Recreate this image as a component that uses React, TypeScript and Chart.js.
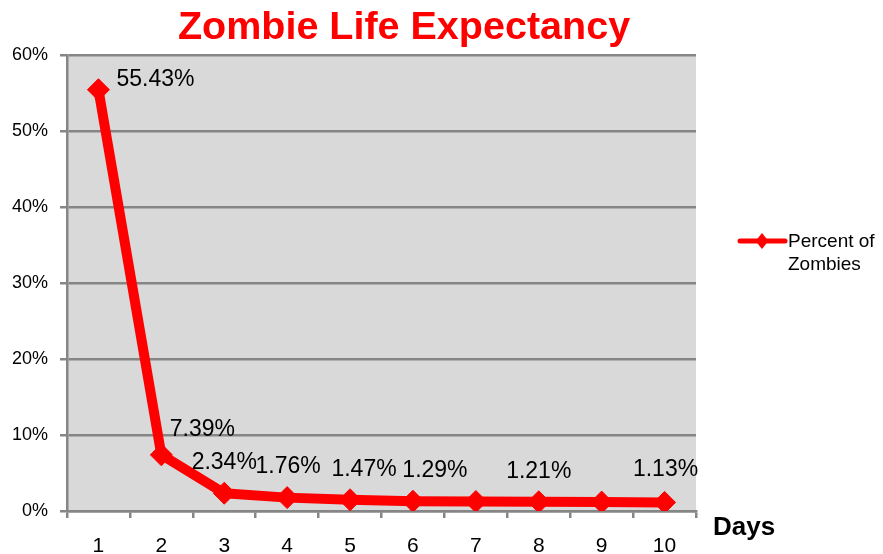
import React, { useEffect, useRef } from 'react';
import { Chart, registerables } from 'chart.js';

Chart.register(...registerables);

const chartTitle = 'Zombie Life Expectancy';
const xAxisTitle = 'Days';
const seriesName = 'Percent of Zombies';
const days = ['1', '2', '3', '4', '5', '6', '7', '8', '9', '10'];
const percentOfZombies = [55.43, 7.39, 2.34, 1.76, 1.47, 1.29, 1.25, 1.21, 1.17, 1.13];
const labelShown = [true, true, true, true, true, true, false, true, false, true];
const yTickValues = [0, 10, 20, 30, 40, 50, 60];

const FONT = '"Liberation Sans", Arial, Helvetica, sans-serif';
const RED = '#FF0000';
const GRID = '#868686';

// label placement (styling): dx from point centre, dy to baseline
const labelDx = [57, 41, 0, 1, 14, 22, 0, 0, 0, 1];
const labelDy = [-4, -19, -24, -25, -24, -24, -24, -24, -24, -26];

const decorPlugin = {
  id: 'decor',
  beforeDraw(chart: any) {
    const { ctx, chartArea } = chart;
    ctx.save();
    ctx.fillStyle = '#FFFFFF';
    ctx.fillRect(0, 0, chart.width, chart.height);
    ctx.fillStyle = '#D9D9D9';
    ctx.fillRect(chartArea.left, chartArea.top, chartArea.right - chartArea.left, chartArea.bottom - chartArea.top);
    ctx.restore();
  },
  afterDraw(chart: any) {
    const { ctx, chartArea } = chart;
    ctx.save();
    // title
    ctx.fillStyle = RED;
    ctx.font = `bold 39.5px ${FONT}`;
    ctx.textAlign = 'center';
    ctx.textBaseline = 'alphabetic';
    ctx.fillText(chartTitle, 404, 39);

    // x axis title
    ctx.fillStyle = '#000';
    ctx.font = `bold 26px ${FONT}`;
    ctx.textAlign = 'left';
    ctx.fillText(xAxisTitle, chartArea.right + 17, 535);

    // legend
    const lx = chartArea.right + 44;
    const ly = 241;
    ctx.strokeStyle = RED;
    ctx.lineWidth = 5;
    ctx.lineCap = 'round';
    ctx.beginPath();
    ctx.moveTo(lx, ly);
    ctx.lineTo(lx + 45, ly);
    ctx.stroke();
    ctx.fillStyle = RED;
    ctx.beginPath();
    const cx = lx + 22, r = 8;
    ctx.moveTo(cx, ly - r);
    ctx.lineTo(cx + r * 0.8, ly);
    ctx.lineTo(cx, ly + r);
    ctx.lineTo(cx - r * 0.8, ly);
    ctx.closePath();
    ctx.fill();
    ctx.fillStyle = '#000';
    ctx.font = `19px ${FONT}`;
    ctx.textAlign = 'left';
    const words = seriesName.split(' ');
    const lines = [words.slice(0, 2).join(' '), words.slice(2).join(' ')];
    lines.forEach((t, i) => ctx.fillText(t, lx + 48, 247 + i * 23));

    // data labels
    const meta = chart.getDatasetMeta(0);
    ctx.font = `23px ${FONT}`;
    ctx.textAlign = 'center';
    ctx.fillStyle = '#000';
    meta.data.forEach((pt: any, i: number) => {
      if (!labelShown[i]) return;
      const v = percentOfZombies[i];
      ctx.fillText(v.toFixed(2) + '%', pt.x + labelDx[i], pt.y + labelDy[i]);
    });
    ctx.restore();
  },
};

export default function App() {
  const ref = useRef<HTMLCanvasElement>(null);
  useEffect(() => {
    if (!ref.current) return;
    const chart = new Chart(ref.current, {
      type: 'line',
      data: {
        labels: days,
        datasets: [
          {
            label: seriesName,
            data: percentOfZombies,
            borderColor: RED,
            backgroundColor: RED,
            borderWidth: 10,
            pointStyle: 'rectRot',
            pointRadius: 11,
            pointBackgroundColor: RED,
            pointBorderColor: RED,
            pointBorderWidth: 1,
            borderJoinStyle: 'round',
            tension: 0,
          },
        ],
      },
      options: {
        responsive: false,
        animation: false,
        layout: { padding: { top: 55, right: 187, left: 0, bottom: 0 } },
        plugins: {
          legend: { display: false },
          title: { display: false },
          tooltip: { enabled: false },
        },
        scales: {
          x: {
            type: 'category',
            offset: true,
            grid: {
              offset: true,
              drawOnChartArea: false,
              drawTicks: true,
              tickLength: 7,
              color: GRID,
              lineWidth: 2.5,
            },
            border: { display: true, color: GRID, width: 2.5 },
            ticks: {
              color: '#000',
              font: { family: FONT, size: 21 },
              padding: 16,
              maxRotation: 0,
            },
            afterFit(scale: any) {
              scale.height = 43;
            },
          },
          y: {
            min: 0,
            max: 60,
            afterBuildTicks(scale: any) {
              scale.ticks = yTickValues.map((v) => ({ value: v }));
            },
            grid: {
              color: GRID,
              lineWidth: 2.5,
              drawTicks: true,
              tickLength: 7,
            },
            border: { display: true, color: GRID, width: 2.5 },
            ticks: {
              color: '#000',
              font: { family: FONT, size: 18 },
              padding: 12,
              callback: (v: any) => v + '%',
            },
            afterFit(scale: any) {
              scale.width = 67;
            },
          },
        },
      },
      plugins: [decorPlugin],
    });
    return () => chart.destroy();
  }, []);
  return (
    <div style={{ position: 'absolute', left: 0, top: 0, width: 883, height: 554, background: '#fff' }}>
      <canvas ref={ref} width={883} height={554} />
    </div>
  );
}
